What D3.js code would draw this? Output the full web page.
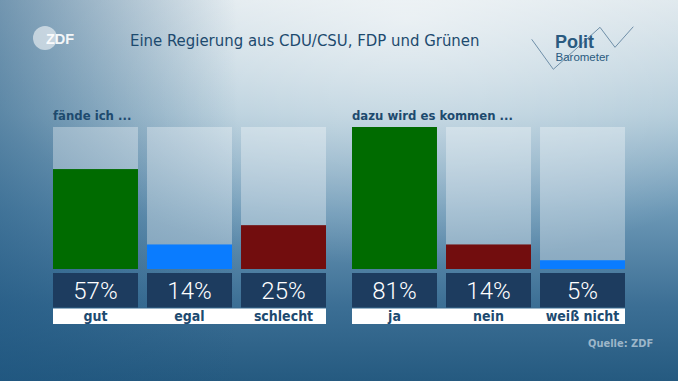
<!DOCTYPE html>
<html><head><meta charset="utf-8">
<script src="https://cdn.jsdelivr.net/npm/d3@7"></script>
<style>html,body{margin:0;padding:0;overflow:hidden;background:#2a5f85}</style>
</head><body>
<script>
// ---- data ----
const title = "Eine Regierung aus CDU/CSU, FDP und Grünen";
const groupTitles = ["fände ich ...", "dazu wird es kommen ..."];
const categoriesA = ["gut", "egal", "schlecht"];
const valuesA = [57, 14, 25];
const categoriesB = ["ja", "nein", "weiß nicht"];
const valuesB = [81, 14, 5];
const source = "Quelle: ZDF";

// ---- styles ----
const colorsA = ["#006b00", "#0a7cff", "#720d0e"];
const colorsB = ["#006b00", "#720d0e", "#0a7cff"];
const W = 678, H = 381;
const condensed = "'DejaVu Sans Condensed','Liberation Sans Narrow','DejaVu Sans',sans-serif";

const svg = d3.select("body").append("svg").attr("width", W).attr("height", H);
const defs = svg.append("defs");
const lg = defs.append("linearGradient").attr("id","bg").attr("x1",0).attr("y1",0).attr("x2",0).attr("y2",1);
[[0,"#d9e4ea"],[0.3,"#a9c5d5"],[0.55,"#6c98b6"],[0.8,"#3c6f95"],[1,"#255a80"]].forEach(s=>lg.append("stop").attr("offset",s[0]).attr("stop-color",s[1]));
const rg = defs.append("radialGradient").attr("id","glow").attr("cx",0.6).attr("cy",0.05).attr("r",0.65);
rg.append("stop").attr("offset",0).attr("stop-color","#ffffff").attr("stop-opacity",0.55);
rg.append("stop").attr("offset",1).attr("stop-color","#ffffff").attr("stop-opacity",0);
const lv = defs.append("linearGradient").attr("id","vig").attr("x1",0).attr("y1",0).attr("x2",1).attr("y2",0);
lv.append("stop").attr("offset",0).attr("stop-color","#1d5580").attr("stop-opacity",0.55);
lv.append("stop").attr("offset",0.35).attr("stop-color","#1d5580").attr("stop-opacity",0);

svg.append("rect").attr("width",W).attr("height",H).attr("fill","url(#bg)");
svg.append("rect").attr("width",W).attr("height",H).attr("fill","url(#glow)");
svg.append("rect").attr("width",W).attr("height",H).attr("fill","url(#vig)");

// ZDF logo
svg.append("circle").attr("cx",45).attr("cy",38).attr("r",12).attr("fill","#ffffff").attr("opacity",0.55);
svg.append("text").attr("x",46).attr("y",43.5).attr("font-family","'Liberation Sans',Arial,sans-serif")
  .attr("font-weight","bold").attr("font-size",14.5).attr("fill","#ffffff").attr("opacity",0.9).text("ZDF");

// title
svg.append("text").attr("x",130).attr("y",45.5).attr("font-family",condensed).attr("font-size",16.6)
  .attr("fill","#1d4a6e").text(title);

// Polit Barometer logo
const zz = [[531.7,39.3],[553.3,69.3],[600,27.3],[615,47.3],[633.3,26.7]];
svg.append("path").attr("d", d3.line()(zz)).attr("fill","none").attr("stroke","#6f8fa8").attr("stroke-width",1);
svg.append("text").attr("x",555).attr("y",47.5).attr("font-family","'Liberation Sans',Arial,sans-serif")
  .attr("font-weight","bold").attr("font-size",18).attr("fill","#2a5a80").text("Polit");
svg.append("text").attr("x",555.5).attr("y",60.5).attr("font-family","'Liberation Sans',Arial,sans-serif")
  .attr("font-size",11.5).attr("fill","#2a5a80").text("Barometer");

// scales
const allVals = valuesA.concat(valuesB);
const y = d3.scaleLinear().domain([0, d3.max(allVals)]).range([269, 127]);
const groups = [
  {title: groupTitles[0], cats: categoriesA, vals: valuesA, cols: colorsA, range: [53, 326]},
  {title: groupTitles[1], cats: categoriesB, vals: valuesB, cols: colorsB, range: [352, 625]}
];

groups.forEach(g => {
  const x = d3.scaleBand().domain(g.cats).range(g.range).paddingInner(0.096);
  const G = svg.append("g");
  G.append("text").attr("x", g.range[0]).attr("y", 120).attr("font-family", condensed)
    .attr("font-weight","bold").attr("font-size",13).attr("fill","#1d4a6e").text(g.title);
  // track
  G.selectAll(".track").data(g.cats).join("rect")
    .attr("x", d => x(d)).attr("width", x.bandwidth())
    .attr("y", y.range()[1]).attr("height", y.range()[0]-y.range()[1])
    .attr("fill","#ffffff").attr("opacity",0.33);
  // bars
  G.selectAll(".bar").data(g.vals).join("rect")
    .attr("x", (d,i) => x(g.cats[i])).attr("width", x.bandwidth())
    .attr("y", d => y(d)).attr("height", d => y(0)-y(d))
    .attr("fill", (d,i) => g.cols[i]);
  // value boxes
  G.selectAll(".vbox").data(g.vals).join("rect")
    .attr("x", (d,i) => x(g.cats[i])).attr("width", x.bandwidth())
    .attr("y", 273).attr("height", 34.5).attr("fill","#1d3c5f");
  G.selectAll(".vtxt").data(g.vals).join("text")
    .attr("x", (d,i) => x(g.cats[i]) + x.bandwidth()/2).attr("y", 298.5)
    .attr("text-anchor","middle").attr("font-family","Roboto,'Liberation Sans',sans-serif")
    .attr("font-weight",300).attr("font-size",24).attr("fill","#ffffff").text(d => d + "%");
  // label strip
  G.append("rect").attr("x", g.range[0]).attr("width", g.range[1]-g.range[0])
    .attr("y", 308.5).attr("height", 15.5).attr("fill","#ffffff");
  G.selectAll(".lbl").data(g.cats).join("text")
    .attr("x", d => x(d) + x.bandwidth()/2).attr("y", 320.5)
    .attr("text-anchor","middle").attr("font-family", condensed)
    .attr("font-weight","bold").attr("font-size",14).attr("fill","#1d4a70").text(d => d);
});

svg.append("text").attr("x",588).attr("y",347).attr("font-family",condensed)
  .attr("font-size",11).attr("font-weight","bold").attr("fill","#9db6c9").text(source);
</script>
</body></html>
